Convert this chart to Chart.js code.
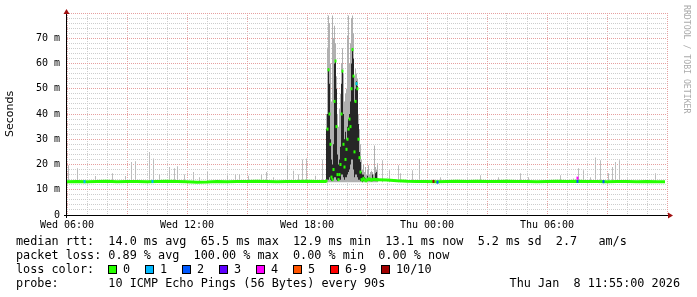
<!DOCTYPE html>
<html>
<head>
<meta charset="utf-8">
<script src="https://cdn.jsdelivr.net/npm/chart.js@4.4.1/dist/chart.umd.min.js"></script>
<style>
body { margin: 0; background: #fff; }
#wrap { position: relative; width: 697px; height: 297px; overflow: hidden; background: #fff; }
#chart { position: absolute; left: 0; top: 0; }
.leg { position: absolute; font: 11.8px "DejaVu Sans Mono", monospace; white-space: pre; color: #000; line-height: 14px; }
.sq { position: absolute; width: 7px; height: 7px; border: 1px solid #000; top: 265px; }
#mark { position: absolute; left: 682px; top: 5px; writing-mode: vertical-rl; font: 8.2px "DejaVu Sans Mono", monospace; color: #aaa; white-space: pre; }
</style>
</head>
<body>
<div id="wrap">
  <canvas id="chart" width="697" height="297"></canvas>
  <div id="mark">RRDTOOL / TOBI OETIKER</div>
  <div class="leg" style="left:16px;top:234px">median rtt:  14.0 ms avg  65.5 ms max  12.9 ms min  13.1 ms now  5.2 ms sd  2.7   am/s</div>
  <div class="leg" style="left:16px;top:248px">packet loss: 0.89 % avg  100.00 % max  0.00 % min  0.00 % now</div>
  <div class="leg" style="left:16px;top:262px">loss color:</div>
  <div id="lossLegend"></div>
  <div class="leg" style="left:16px;top:276px">probe:       10 ICMP Echo Pings (56 Bytes) every 90s</div>
  <div class="leg" style="right:17px;top:276px">Thu Jan  8 11:55:00 2026</div>
</div>
<script>
// time axis is in hours after Wed 06:00
var xLabels = ['Wed 06:00', 'Wed 12:00', 'Wed 18:00', 'Thu 00:00', 'Thu 06:00'];
var yLabels = [0, 10, 20, 30, 40, 50, 60, 70];

// median rtt (ms), quiet part before the burst
var leftTimes = [0, 0.5, 1, 1.5, 2, 2.5, 3, 3.5, 4, 4.5, 5, 5.5, 6, 6.5, 7, 7.5, 8, 8.5, 9, 9.5, 10, 10.5, 11, 11.5, 12, 12.5, 12.95];
var leftMedian = [13.2, 13.3, 13.2, 13.3, 13.4, 13.2, 13.3, 13.3, 13.2, 13.3, 13.4, 13.3, 13.2, 13.0, 13.1, 13.3, 13.2, 13.3, 13.3, 13.4, 13.3, 13.2, 13.3, 13.3, 13.4, 13.3, 13.3];

// median rtt (ms), quiet part after the burst
var rightTimes = [15.5, 16, 16.5, 17, 17.5, 18, 18.5, 19, 19.5, 20, 20.5, 21, 21.5, 22, 22.5, 23, 23.5, 24, 24.5, 25, 25.5, 26, 26.5, 27, 27.5, 28, 28.5, 29, 29.5, 29.9];
var rightMedian = [14.0, 13.9, 13.6, 13.4, 13.3, 13.3, 13.2, 13.3, 13.4, 13.3, 13.4, 13.3, 13.3, 13.4, 13.3, 13.3, 13.2, 13.3, 13.4, 13.3, 13.4, 13.3, 13.3, 13.2, 13.3, 13.3, 13.2, 13.3, 13.2, 13.2];

// burst, one sample every 3 minutes from about 18:58
var burstStart = 12.975;
var burstStep = 0.05;
var burstMedian = [13.5, 34, 57.5, 40, 28, 15, 14, 18, 45, 61, 35, 16, 14, 16, 20, 40, 57, 28, 19, 22, 26, 30, 34, 38, 35, 50, 65.5, 55, 25, 45, 52, 50, 30, 22.7, 17, 14, 13.8, 14.5, 14, 13.6, 13.6, 14.2, 14, 14.3, 14, 13.8, 14, 14.2, 14.1, 14, 14, 14];
var burstLow = [13, 14, 14, 15, 14, 13.5, 13.5, 14, 15, 15, 14, 13.5, 13.5, 14, 14, 16, 16, 15, 14, 15, 15, 16, 17, 18, 20, 22, 22, 18, 15, 16, 16, 15, 14, 14, 13.5, 13.5, 13, 13.5, 13.5, 13.2, 13.2, 13.5, 13.5, 13.5, 13.5, 13.5, 13.5, 13.5, 13.5, 13.5, 13.5, 13.5];
var burstHigh = [34, 40, 58, 52, 30, 22, 20, 28, 60, 61, 50, 24, 20, 22, 27, 52, 57, 40, 30, 33, 30, 35, 38, 40, 45, 60, 66, 62, 45, 50, 53, 51, 36, 25, 21, 17, 16, 16, 15, 14.5, 13.6, 15.5, 14, 14.3, 14, 13.8, 16, 14.2, 14.1, 16.5, 17, 14];
var burstMax = [40, 66, 79, 76, 60, 45, 79, 70, 75, 68, 55, 40, 35, 42, 48, 60, 66, 56, 45, 48, 50, 71, 79, 60, 68, 78, 79, 72, 55, 58, 56, 54, 40, 34, 28, 22, 18, 20, 17, 19, 16, 18, 19.7, 16, 17, 17.5, 17, 16, 27.5, 19, 18, 20.5];

// single slow pings outside the burst (ms)
var spikeTimes = [0.075, 0.525, 1.425, 2.275, 2.925, 3.225, 3.425, 4.125, 4.325, 4.625, 5.125, 5.375, 5.525, 5.875, 6.325, 6.625, 7.025, 8.025, 8.425, 8.625, 9.075, 9.725, 9.975, 10.325, 11.025, 11.325, 11.575, 11.775, 11.975, 12.425, 12.775,
  15.775, 16.125, 16.575, 16.675, 17.275, 17.625, 18.675, 20.025, 20.675, 21.575, 22.675, 23.075, 24.675, 25.325, 25.575, 25.825, 26.175, 26.425, 26.675, 27.075, 27.275, 27.425, 27.625, 28.025, 29.425];
var spikeMax = [19.7, 18.5, 15.4, 16.5, 15.4, 21, 21.3, 25, 22.4, 16, 19, 18.5, 19.3, 16, 17, 15, 17, 15.5, 16, 16, 15.5, 16, 17, 15, 23.3, 17.5, 16, 22, 22.4, 15.5, 22,
  21.7, 17.7, 19.7, 16.5, 17.7, 22.4, 15, 14.5, 15.7, 15, 16.5, 15, 15.7, 14.5, 18.5, 17.7, 15, 22.8, 21.7, 16.5, 19, 21, 21.7, 14.5, 16.5];

// medians that had packet loss (pings lost out of 10)
var lossTimes = [0.875, 4.275, 14.475, 18.325, 18.525, 25.525, 25.525, 26.825];
var lossMedian = [13.2, 13.3, 52, 13.3, 13.0, 13.3, 14.6, 13.2];
var lossCount = [1, 1, 1, 10, 2, 2, 4, 2];

var lossSteps = ['0', '1', '2', '3', '4', '5', '6-9', '10/10'];
var lossPalette = ['#26ff00', '#00b8ff', '#0059ff', '#5e00ff', '#ff00fe', '#ff5500', '#ff0000', '#a10000'];

function lossColor(n) {
    if (n >= 10) return lossPalette[7];
    if (n >= 6) return lossPalette[6];
    return lossPalette[n];
}

// loss colour legend
var squareX = [108, 145, 182, 219, 256, 293, 330, 381];
var lossLegend = document.getElementById('lossLegend');
lossSteps.forEach(function(s, i) {
    var sq = document.createElement('div');
    sq.className = 'sq';
    sq.style.left = squareX[i] + 'px';
    sq.style.background = lossPalette[i];
    lossLegend.appendChild(sq);
    var t = document.createElement('div');
    t.className = 'leg';
    t.style.left = (squareX[i] + 15) + 'px';
    t.style.top = '262px';
    t.textContent = s;
    lossLegend.appendChild(t);
});

var burstTimes = burstMedian.map(function(v, i) { return burstStart + i * burstStep; });
var halfBand = 0.6;

var axisArrows = {
    id: 'axisArrows',
    afterDatasetsDraw: function(chart) {
        var ctx = chart.ctx, a = chart.chartArea;
        var x0 = Math.round(a.left) - 0.5, y0 = Math.round(a.bottom) + 0.5;
        ctx.save();
        ctx.strokeStyle = '#000';
        ctx.lineWidth = 1;
        ctx.beginPath();
        ctx.moveTo(x0, a.bottom + 3);
        ctx.lineTo(x0, a.top - 2);
        ctx.moveTo(a.left - 3, y0);
        ctx.lineTo(a.right + 2, y0);
        ctx.stroke();
        ctx.fillStyle = '#a01010';
        ctx.beginPath();
        ctx.moveTo(x0, a.top - 4);
        ctx.lineTo(x0 - 3, a.top + 1);
        ctx.lineTo(x0 + 3, a.top + 1);
        ctx.closePath();
        ctx.fill();
        ctx.beginPath();
        ctx.moveTo(a.right + 6, y0);
        ctx.lineTo(a.right + 1, y0 - 3);
        ctx.lineTo(a.right + 1, y0 + 3);
        ctx.closePath();
        ctx.fill();
        ctx.restore();
    }
};

Chart.defaults.font.family = '"DejaVu Sans Mono", monospace';
Chart.defaults.font.size = 10;
Chart.defaults.color = '#000';

var majorGrid = '#e6a0a0';
var minorGrid = '#cdcdcd';

var ctx = document.getElementById('chart').getContext('2d');
var chart = new Chart(ctx, {
    type: 'bar',
    data: {
        datasets: [{
            label: 'smoke',
            data: spikeTimes.map(function(t, i) { return { x: t, y: [13, spikeMax[i]] }; }),
            backgroundColor: '#bdbdbd',
            barThickness: 1,
            inflateAmount: 0,
            grouped: false,
            order: 6
        }, {
            label: 'burst smoke',
            data: burstTimes.map(function(t, i) { return { x: t, y: [13, burstMax[i]] }; }),
            backgroundColor: '#b0b0b0',
            barThickness: 1,
            inflateAmount: 0,
            grouped: false,
            order: 5
        }, {
            label: 'burst core',
            data: burstTimes.map(function(t, i) { return { x: t, y: [burstLow[i], burstHigh[i]] }; }),
            backgroundColor: '#262626',
            barThickness: 1,
            inflateAmount: 0,
            grouped: false,
            order: 4
        }, {
            type: 'line',
            label: 'median',
            data: leftTimes.map(function(t, i) { return { x: t, y: leftMedian[i] }; })
                .concat([{ x: 13.5, y: null }])
                .concat(rightTimes.map(function(t, i) { return { x: t, y: rightMedian[i] }; })),
            borderColor: lossPalette[0],
            borderWidth: 3,
            pointRadius: 0,
            tension: 0,
            order: 3
        }, {
            label: 'burst median',
            data: burstTimes.map(function(t, i) { return { x: t, y: [burstMedian[i] - halfBand, burstMedian[i] + halfBand] }; }),
            backgroundColor: lossPalette[0],
            barThickness: 2,
            inflateAmount: 0,
            grouped: false,
            order: 2
        }, {
            label: 'loss',
            data: lossTimes.map(function(t, i) { return { x: t, y: [lossMedian[i] - halfBand, lossMedian[i] + halfBand] }; }),
            backgroundColor: lossCount.map(lossColor),
            barThickness: 2,
            inflateAmount: 0,
            grouped: false,
            order: 1
        }]
    },
    options: {
        responsive: false,
        animation: false,
        layout: { padding: { left: 0, right: 30, top: 12, bottom: 0 } },
        plugins: { legend: { display: false }, tooltip: { enabled: false } },
        scales: {
            x: {
                type: 'linear',
                min: 0,
                max: 30,
                offset: false,
                grid: {
                    color: function(c) { return c.tick && c.tick.value % 3 === 0 ? majorGrid : minorGrid; },
                    drawTicks: false,
                    offset: false
                },
                border: { display: false, dash: [1, 1] },
                ticks: {
                    stepSize: 1,
                    autoSkip: false,
                    maxRotation: 0,
                    padding: 4,
                    callback: function(v) { return v % 6 === 0 && v / 6 < xLabels.length ? xLabels[v / 6] : ''; }
                },
                afterFit: function(s) { s.height = 82; }
            },
            y: {
                min: 0,
                max: 80,
                grid: {
                    color: function(c) { return c.tick && c.tick.value % 10 === 0 ? majorGrid : minorGrid; },
                    drawTicks: false
                },
                border: { display: false, dash: [1, 1] },
                ticks: {
                    stepSize: 2,
                    autoSkip: false,
                    padding: 7,
                    callback: function(v) {
                        if (yLabels.indexOf(v) < 0) return '';
                        return v === 0 ? '0' : v + ' m';
                    }
                },
                title: {
                    display: true,
                    text: 'Seconds',
                    font: { family: '"DejaVu Sans", sans-serif', size: 11 },
                    padding: { top: 4, bottom: 0 }
                },
                afterFit: function(s) { s.width = 67; }
            }
        }
    },
    plugins: [axisArrows]
});
</script>
</body>
</html>
